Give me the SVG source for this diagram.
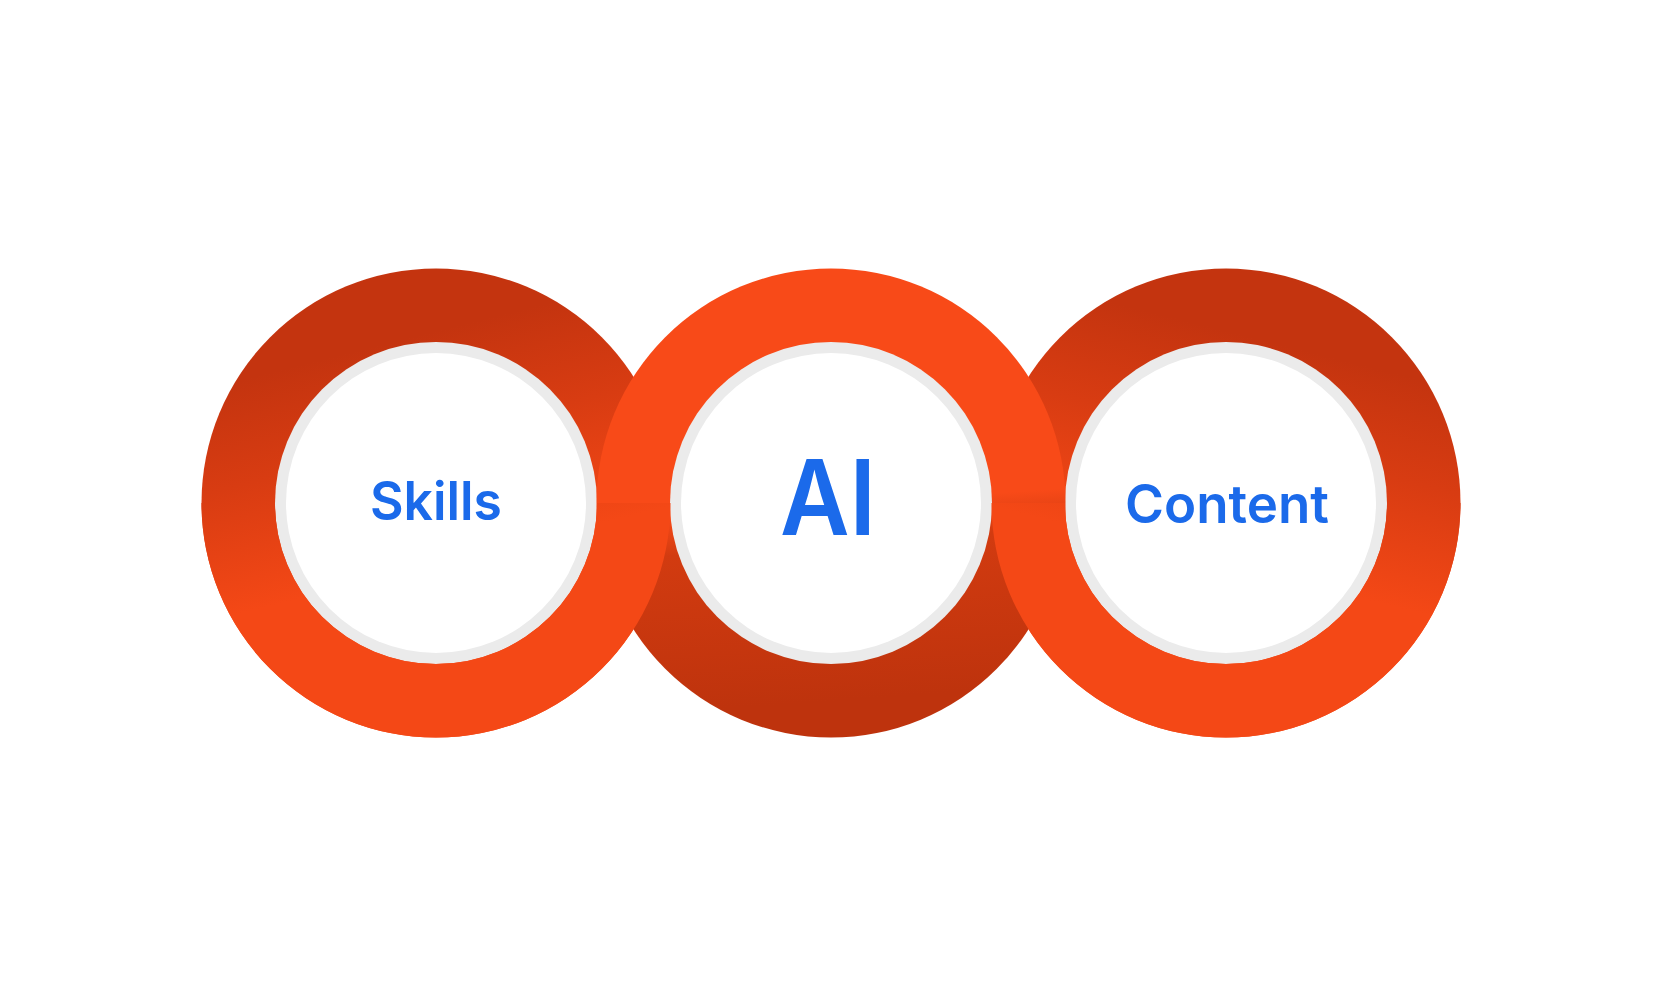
<svg xmlns="http://www.w3.org/2000/svg" width="1664" height="1006" viewBox="0 0 1664 1006">
  <style>
    .lbl { font-family: Inter, "Liberation Sans", Arial, sans-serif; font-weight: 600; fill: #1B6AEA; text-anchor: middle; }
    .rim { fill: #EBEBEB; }
    .hole { fill: #FFFFFF; }
  </style>
  <defs>
    <linearGradient id="gLeft" gradientUnits="userSpaceOnUse" x1="560" y1="300" x2="615" y2="520">
      <stop offset="0" stop-color="#C4340F"/>
      <stop offset="0.45" stop-color="#D83C12"/>
      <stop offset="1" stop-color="#F44816"/>
    </linearGradient>
    <linearGradient id="gRight" gradientUnits="userSpaceOnUse" x1="1102" y1="300" x2="1047" y2="520">
      <stop offset="0" stop-color="#C4340F"/>
      <stop offset="0.45" stop-color="#D83C12"/>
      <stop offset="1" stop-color="#F44816"/>
    </linearGradient>
    <linearGradient id="gMid" gradientUnits="userSpaceOnUse" x1="831" y1="505" x2="845" y2="700">
      <stop offset="0" stop-color="#F84A18"/>
      <stop offset="0.2" stop-color="#D23B10"/>
      <stop offset="1" stop-color="#BE330D"/>
    </linearGradient>
    <clipPath id="lowerHalf">
      <rect x="0" y="503" width="1664" height="503"/>
    </clipPath>
  </defs>

  <g id="node-skills">
    <circle cx="436" cy="503" r="234.5" fill="url(#gLeft)"/>
    <circle class="rim" cx="436" cy="503" r="161"/>
    <circle class="hole" cx="436" cy="503" r="150"/>
    <text class="lbl" x="436" y="520" font-size="53" textLength="132" lengthAdjust="spacingAndGlyphs">Skills</text>
  </g>

  <g id="node-content">
    <circle cx="1226" cy="503" r="234.5" fill="url(#gRight)"/>
    <circle class="rim" cx="1226" cy="503" r="161"/>
    <circle class="hole" cx="1226" cy="503" r="150"/>
    <text class="lbl" x="1227" y="523" font-size="53" textLength="204" lengthAdjust="spacingAndGlyphs">Content</text>
  </g>

  <g id="node-ai">
    <circle cx="831" cy="503" r="234.5" fill="url(#gMid)"/>
    <circle class="rim" cx="831" cy="503" r="161"/>
    <circle class="hole" cx="831" cy="503" r="150"/>
    <text class="lbl" x="828" y="535" font-size="104" textLength="96" lengthAdjust="spacingAndGlyphs">AI</text>
  </g>

  <g id="connectors">
    <g clip-path="url(#lowerHalf)">
      <path d="M 201.5 503 a 234.5 234.5 0 1 0 469 0 a 234.5 234.5 0 1 0 -469 0 Z M 275 503 a 161 161 0 1 1 322 0 a 161 161 0 1 1 -322 0 Z" fill="url(#gLeft)" fill-rule="evenodd"/>
      <path d="M 991.5 503 a 234.5 234.5 0 1 0 469 0 a 234.5 234.5 0 1 0 -469 0 Z M 1065 503 a 161 161 0 1 1 322 0 a 161 161 0 1 1 -322 0 Z" fill="url(#gRight)" fill-rule="evenodd"/>
    </g>
  </g>
</svg>
